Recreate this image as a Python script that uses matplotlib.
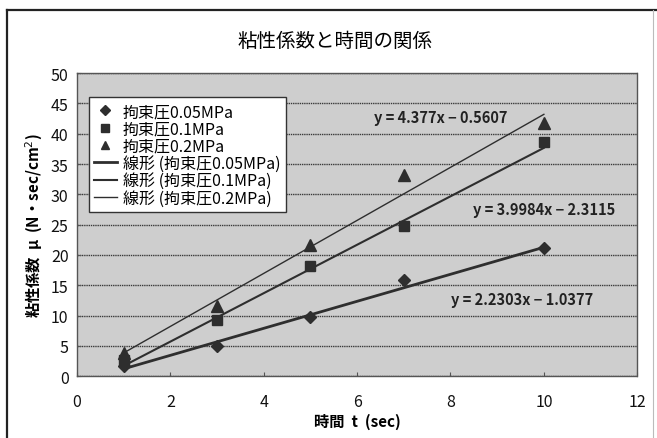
import numpy as np
import matplotlib.pyplot as plt
from matplotlib.lines import Line2D

plt.rcParams['font.family'] = ['Noto Sans CJK JP', 'DejaVu Sans']

t = np.array([1, 3, 5, 7, 10], dtype=float)
mu_005 = np.array([1.6, 4.9, 9.8, 15.8, 21.1])
mu_01 = np.array([2.6, 9.2, 18.2, 24.7, 38.7])
mu_02 = np.array([3.8, 11.6, 21.6, 33.2, 41.7])

# trend line coefficients (slope, intercept)
slopes = [2.2303, 3.9984, 4.377]
intercepts = [-1.0377, -2.3115, -0.5607]

series_names = ['拘束圧0.05MPa', '拘束圧0.1MPa', '拘束圧0.2MPa']
fit_names = ['線形 (拘束圧0.05MPa)', '線形 (拘束圧0.1MPa)', '線形 (拘束圧0.2MPa)']

fig = plt.figure(figsize=(6.57, 4.39), dpi=100)
ax = fig.add_axes([0.117, 0.141, 0.853, 0.69])
ax.set_facecolor('#cecece')

# outer chart frame
fig.add_artist(Line2D([0.011, 0.011], [-0.01, 0.974], transform=fig.transFigure, color='#222', lw=1.6))
fig.add_artist(Line2D([0.011, 1.0], [0.974, 0.974], transform=fig.transFigure, color='#222', lw=1.6))
fig.add_artist(Line2D([0.994, 0.994], [-0.01, 0.974], transform=fig.transFigure, color='#bbb', lw=0.8))

c = '#2e2e2e'
markers = ['D', 's', '^']
msizes = [6, 7, 8]
for y, m, ms, name in zip([mu_005, mu_01, mu_02], markers, msizes, series_names):
    ax.plot(t, y, linestyle='none', marker=m, markersize=ms, color=c, label=name, zorder=5)

tt = np.array([t.min(), t.max()])
widths = [2.0, 1.5, 1.0]
for a, b, lw, name in zip(slopes, intercepts, widths, fit_names):
    ax.plot(tt, a * tt + b, color=c, lw=lw, label=name, zorder=4)

ax.set_xlim(0, 12)
ax.set_ylim(0, 50)
ax.set_xticks(np.arange(0, 13, 2))
ax.set_yticks(np.arange(0, 51, 5))
ax.yaxis.grid(True, color='#3a3a3a', lw=1.0, linestyle=(0, (1, 0.6)))
ax.set_axisbelow(True)
for s in ax.spines.values():
    s.set_color('#555')
    s.set_linestyle((0, (1, 1)))
    s.set_linewidth(1.0)
ax.tick_params(axis='both', direction='in', length=3, color='#555', labelsize=11.5,
               labelcolor='#111', pad=6)
ax.tick_params(axis='x', pad=12)

fig.text(0.51, 0.905, '粘性係数と時間の関係', ha='center', va='center', fontsize=14)
ax.set_xlabel('時間  t  (sec)', fontsize=11, fontweight='bold', labelpad=2)
ax.set_ylabel('粘性係数  μ  (N・sec/cm$^2$)', fontsize=11, fontweight='bold', labelpad=4)

for a, b, (x, y) in zip(slopes, intercepts, [(522, 300), (544, 210), (441, 118)]):
    xf = x / 657
    yf = 1 - y / 439
    fig.text(xf, yf, f'y = {a:g}x − {abs(b):g}', ha='center', va='center',
             fontsize=10.5, fontweight='bold', color='#222')

leg = ax.legend(loc='upper left', bbox_to_anchor=(0.021, 0.92), fontsize=11.5,
                frameon=True, fancybox=False, edgecolor='#333', framealpha=1,
                handlelength=1.4, handletextpad=0.4, labelspacing=0.02,
                borderpad=0.35, borderaxespad=0, markerscale=0.8)
leg.get_frame().set_linewidth(1.0)

fig.savefig('out.png', dpi=100)
